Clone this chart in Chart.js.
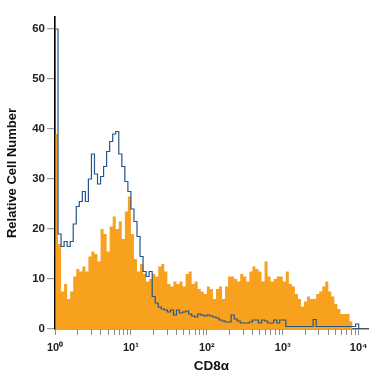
<!DOCTYPE html>
<html>
<head>
<meta charset="utf-8">
<script src="https://cdn.jsdelivr.net/npm/chart.js@4/dist/chart.umd.min.js"></script>
<style>
  html, body { margin: 0; padding: 0; background: #fff; }
  #wrap { width: 375px; height: 375px; }
</style>
</head>
<body>
<div id="wrap"><canvas id="c" width="375" height="375"></canvas></div>
<script>
// Channel width in decades (log-scale histogram channels starting at 10^0)
const CHANNEL_WIDTH_DECADES = 0.04;

// Stained sample counts per channel (orange filled)
const stainedCounts = [
  39,17,7.5,9,6,7.5,10.5,12,11.5,12.5,
  11.5,14.5,15.5,15,13.5,20,19,15.5,20.5,22.5,
  20,21.5,18,23.5,26.5,19,14,11.5,13,11,
  9.5,10,11,10.5,12.5,13,11.5,9,8.5,9.5,
  9,9.5,8.5,11,11.5,9,9.5,8,7.5,7,
  8.5,8,6,8,8.5,6,8.5,10.5,10.5,10,
  9.5,11,10.5,9.5,11.5,12.5,12,11.5,9.5,13.5,
  10.5,9.5,10,10.5,10.5,9.5,11.5,9,8.5,7,
  6,4.5,5.5,6.5,6,6,7,7.5,8.5,9.5,
  7.5,6.5,5,4,3,3,3,1.5
];

// Control counts per channel (blue outline)
const controlCounts = [
  60,19,16.5,17.5,16.5,17.5,21,24.5,25.5,27.5,
  25.5,30,35,31,29,30.5,32.5,35.5,37.5,39,
  39.5,35,32.5,29.5,27.5,24,21.5,18.5,14.5,11.5,
  10.5,11.5,6.5,5.2,4.4,4,3.8,3.4,3.8,2.8,
  3.8,3.2,3.4,3.6,3,2.6,2.4,3,2.8,2.6,
  2.8,2.6,2.4,2.2,1.8,1.6,1.4,1.4,2.8,2,
  1.6,1.2,1.2,1.2,1.4,1.8,1.8,1.2,1.8,1.6,
  1.2,1.2,1.8,1.2,1.8,1.8,0.5,0.5,0.5,0.5,
  0.5,0.5,0.5,0.5,0.5,1.9,0.5,0.5,0.5,0.5,
  0.5,0.5,0.5,0.5,0.5,0.5,0.5,0.5,0.5,1
];

const xMajorTicks = [1, 10, 100, 1000, 10000];
const xTickLabels = ['10\u2070', '10\u00B9', '10\u00B2', '10\u00B3', '10\u2074'];
const yTicks = [0, 10, 20, 30, 40, 50, 60];
const xAxisMax = 13270;
const yAxisMax = 62.4;

function channelEdge(i) { return Math.pow(10, i * CHANNEL_WIDTH_DECADES); }

function histogramPoints(counts) {
  const pts = [{ x: channelEdge(0), y: 0 }];
  counts.forEach((c, i) => pts.push({ x: channelEdge(i), y: c }));
  const n = counts.length;
  pts.push({ x: channelEdge(n), y: counts[n - 1] });
  pts.push({ x: channelEdge(n), y: 0 });
  return pts;
}

// minor tick positions 1..9 per decade
const xAllTicks = [];
for (let d = 0; d < xMajorTicks.length; d++) {
  const base = xMajorTicks[d];
  if (d === xMajorTicks.length - 1) { xAllTicks.push(base); break; }
  for (let m = 1; m < 10; m++) xAllTicks.push(base * m);
}

const titleFont = { family: "'Liberation Sans Narrow', 'Liberation Sans', Arial, sans-serif", weight: 'bold', size: 13.5 };
const yTickFont = { family: "'Liberation Sans', Arial, sans-serif", weight: 'bold', size: 11.5 };
const xTickFont = { family: "'Liberation Sans', Arial, sans-serif", weight: 'bold', size: 11 };

new Chart(document.getElementById('c'), {
  type: 'line',
  data: {
    datasets: [
      {
        label: 'Control',
        data: histogramPoints(controlCounts),
        stepped: 'before',
        borderColor: '#24568a',
        borderWidth: 1.2,
        fill: false,
        pointRadius: 0,
        order: 0
      },
      {
        label: 'CD8\u03B1',
        data: histogramPoints(stainedCounts),
        stepped: 'before',
        borderColor: '#F7A11F',
        borderWidth: 0,
        backgroundColor: '#F7A11F',
        fill: 'origin',
        pointRadius: 0,
        order: 1
      }
    ]
  },
  options: {
    responsive: false,
    animation: false,
    events: [],
    layout: { padding: { top: 17, right: 7, left: 0, bottom: 0 } },
    plugins: { legend: { display: false }, tooltip: { enabled: false } },
    scales: {
      x: {
        type: 'logarithmic',
        min: 1,
        max: xAxisMax,
        afterBuildTicks: (s) => { s.ticks = xAllTicks.map(v => ({ value: v, major: xMajorTicks.includes(v) })); },
        afterFit: (s) => { s.height = 46; },
        ticks: {
          autoSkip: false,
          maxRotation: 0,
          padding: 6,
          color: '#222',
          font: xTickFont,
          callback: (v) => { const k = xMajorTicks.indexOf(v); return k >= 0 ? xTickLabels[k] : ''; }
        },
        grid: { display: true, drawOnChartArea: false, drawTicks: true, tickLength: 6, color: '#8a8a8a', lineWidth: 1 },
        border: { display: true, color: '#555', width: 1.5 },
        title: { display: true, text: 'CD8\u03B1', color: '#111', font: titleFont, padding: { top: 0, bottom: 1 } }
      },
      y: {
        type: 'linear',
        min: 0,
        max: yAxisMax,
        afterBuildTicks: (s) => { s.ticks = yTicks.map(v => ({ value: v })); },
        afterFit: (s) => { s.width = 55; },
        ticks: { padding: 2, color: '#222', font: yTickFont },
        grid: { display: true, drawOnChartArea: false, drawTicks: true, tickLength: 8, color: '#9a9a9a', lineWidth: 1.2 },
        border: { display: true, color: '#000', width: 1.6 },
        title: { display: true, text: 'Relative Cell Number', color: '#111', font: { ...titleFont, size: 13 }, padding: { top: 5, bottom: 0 } }
      }
    }
  }
});
</script>
</body>
</html>
